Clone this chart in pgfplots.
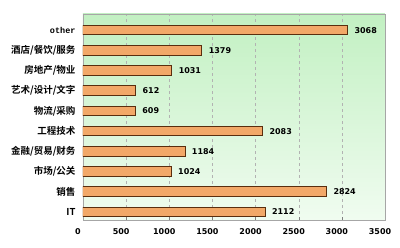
\documentclass[border=0pt]{standalone}
\usepackage{pgfplots}
\pgfplotsset{compat=1.18}
\usepackage{fontspec}
\setmainfont{DejaVu Sans}
\newfontfamily\cjk{Noto Sans CJK SC}[BoldFont={Noto Sans CJK SC Bold}]
\setmonofont{Liberation Mono}
\definecolor{barfill}{HTML}{F2A868}
\definecolor{barlight}{HTML}{FFE6CC}
\definecolor{baredge}{HTML}{5A2E0E}
\definecolor{bgtop}{HTML}{C2F0C2}
\definecolor{bgbot}{HTML}{F0FCF0}
\begin{document}
\begin{tikzpicture}
\path[use as bounding box] (-83pt,-28pt) rectangle (317pt,220pt);
\begin{axis}[
  scale only axis,
  width=302pt, height=206pt,
  xbar,
  bar width=9.5pt,
  xmin=0, xmax=3500,
  ymin=-0.4, ymax=9.8,
  xtick={0,500,...,3500},
  ytick={0,...,9},
  yticklabels={\textbf{IT},\textbf{销售},\textbf{市场/公关},\textbf{金融/贸易/财务},\textbf{工程技术},\textbf{物流/采购},\textbf{艺术/设计/文字},\textbf{房地产/物业},\textbf{酒店/餐饮/服务},{\ttfamily\bfseries\fontsize{8.5}{9}\selectfont other}},
  yticklabel style={font=\cjk\fontsize{9.5}{10}\selectfont, text=black, xshift=-1pt},
  xticklabel style={font=\bfseries\fontsize{8}{9}\selectfont, xshift=-5pt, yshift=-5pt},
  /pgf/number format/assume math mode=true,
  /pgf/number format/1000 sep={},
  xmajorgrids,
  major grid style={gray!60, dashed},
  ytick style={draw=none},
  xtick pos=bottom,
  major tick length=3pt,
  axis line style={gray!70},
  axis background/.style={shade, top color=bgtop, bottom color=bgbot},
  nodes near coords,
  nodes near coords style={font=\bfseries\fontsize{8}{9}\selectfont, text=black, xshift=3pt},
  every node near coord/.append style={/pgf/number format/1000 sep={}},
]
\addplot[draw=baredge, line width=1pt, top color=barfill, middle color=barlight, bottom color=barfill]
coordinates {
(2112,0) (2824,1) (1024,2) (1184,3) (2083,4) (609,5) (612,6) (1031,7) (1379,8) (3068,9)
};
\end{axis}
\end{tikzpicture}
\end{document}
